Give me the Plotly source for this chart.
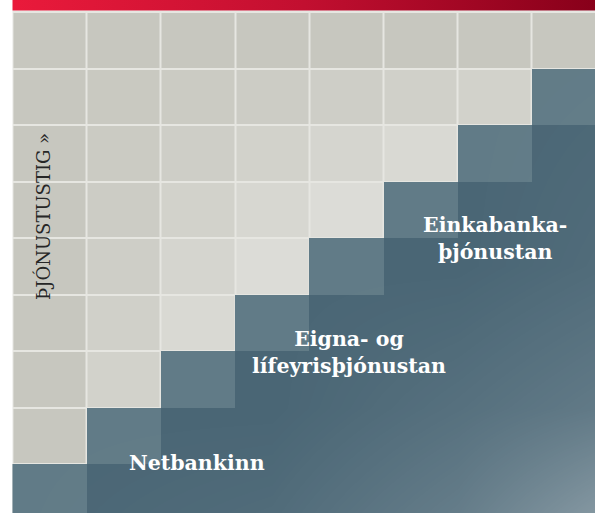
import plotly.graph_objects as go

# ---- data ----
COLUMNS = [0, 1, 2, 3, 4, 5, 6, 7]
ROWS = [0, 1, 2, 3, 4, 5, 6, 7, 8]
# number of light (not yet reached) tiles in each row, top to bottom
LIGHT_TILES_PER_ROW = [8, 7, 6, 5, 4, 3, 2, 1, 0]
AXIS_TITLE = "ÞJÓNUSTUSTIG »"
SERVICE_LABELS = ["Netbankinn", "Eigna- og<br>lífeyrisþjónustan", "Einkabanka-<br>þjónustan"]

# ---- build cell matrices ----
light_z, blue_z = [], []
for r, n in zip(ROWS, LIGHT_TILES_PER_ROW):
    lrow, brow = [], []
    for c in COLUMNS:
        if c < n:
            lrow.append(min(r * c, 12))   # tonal shade of light tile
            brow.append(None)
        elif c == n:
            lrow.append(None)
            brow.append(1)
        else:
            lrow.append(None)
            brow.append(2)
    light_z.append(lrow)
    blue_z.append(brow)

fig = go.Figure()

fig.add_trace(go.Heatmap(
    x=COLUMNS, y=ROWS, z=light_z, zmin=0, zmax=12,
    colorscale=[[0, "#c7c7bf"], [1, "#dcdcd7"]], showscale=False,
    xgap=2, ygap=2, hoverinfo="skip"))

fig.add_trace(go.Heatmap(
    x=COLUMNS, y=ROWS, z=blue_z, zmin=1, zmax=2,
    colorscale=[[0, "#617b87"], [0.5, "#617b87"], [0.5, "#4a6675"], [1, "#4a6675"]],
    showscale=False, hoverinfo="skip"))

# soft light glow towards the bottom-right corner
fig.add_trace(go.Heatmap(
    x=[-0.67, 3, 5.5, 7.35], y=[-0.7, 4, 6.5, 8.37],
    z=[[0, 0, 0, 0],
       [0, 0, 0, 0.04],
       [0, 0, 0.07, 0.13],
       [0, 0.04, 0.15, 0.32]],
    zmin=0, zmax=1, zsmooth="best",
    colorscale=[[0, "rgba(255,255,255,0)"], [1, "rgba(255,255,255,1)"]],
    showscale=False, hoverinfo="skip"))

# red top band on a pixel-like overlay axis
fig.add_trace(go.Scatter(
    x=[12.5, 595, 595, 12.5, 12.5], y=[0, 0, 10.5, 10.5, 0],
    xaxis="x2", yaxis="y2", mode="lines", line=dict(width=0),
    fill="toself",
    fillgradient=dict(type="horizontal",
                      colorscale=[[0, "#ea1a3b"], [0.5, "#c20f30"], [1, "#88001a"]]),
    hoverinfo="skip", showlegend=False))

fig.update_layout(
    width=595, height=513,
    margin=dict(l=0, r=0, t=0, b=0),
    paper_bgcolor="white", plot_bgcolor="white",
    showlegend=False,
    xaxis=dict(range=[-0.668, 7.35], visible=False, fixedrange=True),
    yaxis=dict(range=[8.367, -0.712], visible=False, fixedrange=True),
    xaxis2=dict(range=[0, 595], overlaying="x", visible=False, fixedrange=True),
    yaxis2=dict(range=[513, 0], overlaying="y", visible=False, fixedrange=True),
    shapes=[dict(type="rect", xref="x2", yref="y2", x0=12.5, x1=595, y0=10.5, y1=513,
                 fillcolor="#e6e6e1", line=dict(width=0), layer="below")],
)

label_pos = [(197, 463), (349, 352), (495, 238)]
for txt, (px, py) in zip(SERVICE_LABELS, label_pos):
    fig.add_annotation(x=px / 595, y=1 - py / 513, xref="paper", yref="paper",
                       text=txt, showarrow=False, xanchor="center", yanchor="middle",
                       align="center",
                       font=dict(family="DejaVu Serif", size=20.5, color="white", weight="bold"))

fig.add_annotation(x=43 / 595, y=1 - 217 / 513, xref="paper", yref="paper",
                   text=AXIS_TITLE, textangle=-90, showarrow=False,
                   xanchor="center", yanchor="middle",
                   font=dict(family="DejaVu Serif", size=18, color="#262626"))

fig.write_html("out.html", config={"displayModeBar": False},
               post_script="document.body.style.margin='0';document.body.style.overflow='hidden';")
